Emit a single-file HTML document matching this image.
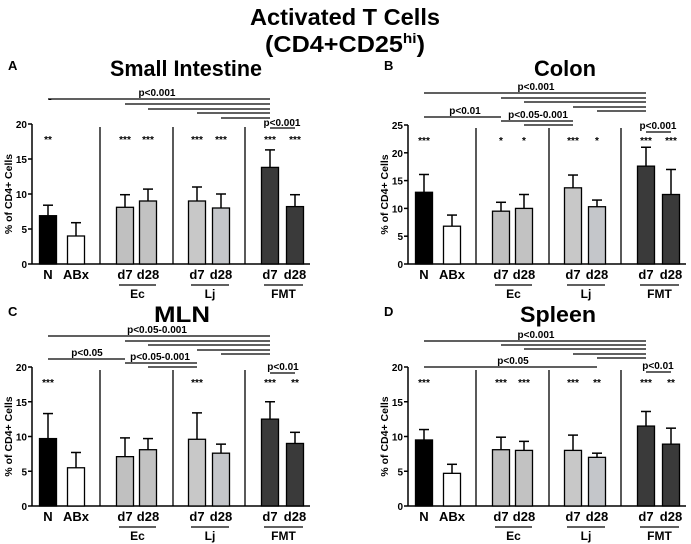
<!DOCTYPE html>
<html><head><meta charset="utf-8"><style>
body{margin:0;background:#fff;}
svg{display:block;font-family:"Liberation Sans",Arial,sans-serif;}
</style></head><body>
<svg id="fig" width="691" height="544" viewBox="0 0 691 544">
<text x="345" y="25" text-anchor="middle" font-size="23" font-weight="bold" textLength="190" lengthAdjust="spacingAndGlyphs">Activated T Cells</text>
<text x="345" y="52" text-anchor="middle" font-size="23" font-weight="bold" textLength="160" lengthAdjust="spacingAndGlyphs">(CD4+CD25<tspan font-size="14" dy="-9">hi</tspan><tspan dy="9">)</tspan></text>
</svg>
<script>
const categories=["N","ABx","d7","d28","d7","d28","d7","d28"];
const groups=["Ec","Lj","FMT"];
const siMeans=[6.9,4.0,8.1,9.0,9.0,8.0,13.8,8.2];
const siErr=[8.4,5.9,9.9,10.7,11.0,10.0,16.3,9.9];
const siStars=["**","","***","***","***","***","***","***"];
const coMeans=[12.9,6.8,9.5,10.0,13.7,10.3,17.6,12.5];
const coErr=[16.1,8.8,11.1,12.5,16.0,11.5,21.0,17.0];
const coStars=["***","","*","*","***","*","***","***"];
const mlMeans=[9.7,5.5,7.1,8.1,9.6,7.6,12.5,9.0];
const mlErr=[13.3,7.7,9.8,9.7,13.4,8.9,15.0,10.6];
const mlStars=["***","","","","***","","***","**"];
const spMeans=[9.5,4.7,8.1,8.0,8.0,7.0,11.5,8.9];
const spErr=[11.0,6.0,9.9,9.3,10.2,7.6,13.6,11.2];
const spStars=["***","","***","***","***","**","***","**"];
const yTicksA=[0,5,10,15,20];
const yTicksB=[0,5,10,15,20,25];

const NS="http://www.w3.org/2000/svg";
const svg=document.getElementById('fig');
const fills=["#000","#fff","#c0c0c0","#c2c2c2","#c8c8c8","#c4c6ca","#3a3a3a","#3a3a3a"];
function el(tag,attrs,parent,txt){const e=document.createElementNS(NS,tag);for(const k in attrs)e.setAttribute(k,attrs[k]);if(txt!==undefined)e.textContent=txt;(parent||svg).appendChild(e);return e;}

function panel(o){
  const g=el('g',{});
  
  
  const ox=o.ox, y0=o.y0, yTop=o.yTop, ymax=o.ymax;
  const yS=v=>y0-(v/ymax)*(y0-yTop);
  const centers=[16,44,93,116,165,189,238,263].map(c=>ox+c);
  const bw=17;
  const l=el('text',{x:ox-24,y:o.ty-6,'font-size':13,'font-weight':'bold'},g,o.letter);
  
  
  const t=el('text',{x:ox+o.tcx,y:o.ty,'text-anchor':'middle','font-size':22,'font-weight':'bold',textLength:o.tw,lengthAdjust:'spacingAndGlyphs'},g,o.title);
  
  
  const ya=el('line',{x1:ox,y1:yTop,x2:ox,y2:y0,stroke:'#000','stroke-width':1.5},g);
  
  
  const xa=el('line',{x1:ox,y1:y0,x2:ox+278,y2:y0,stroke:'#000','stroke-width':1.5},g);
  
  
  o.ticks.forEach(v=>{
    const tk=el('line',{x1:ox-4,y1:yS(v),x2:ox,y2:yS(v),stroke:'#000','stroke-width':1.5},g);
    
    
    const tl=el('text',{x:ox-5,y:yS(v)+4,'text-anchor':'end','font-size':10,'font-weight':'bold'},g,String(v));
    
    
  });
  const yt=el('text',{x:0,y:0,'text-anchor':'middle','font-size':10.5,'font-weight':'bold',transform:`translate(${ox-20},${(y0+yTop)/2}) rotate(-90)`},g,'% of CD4+ Cells');
  
  
  [68,141,213].forEach(s=>{
    const sl=el('line',{x1:ox+s,y1:yTop+3,x2:ox+s,y2:y0,stroke:'#000','stroke-width':1.3},g);
    
    
  });
  o.means.forEach((m,i)=>{
    const cx=centers[i];
    const e=el('line',{x1:cx,y1:yS(o.err[i]),x2:cx,y2:yS(m),stroke:'#000','stroke-width':1.5},g);
    
    
    const c=el('line',{x1:cx-5,y1:yS(o.err[i]),x2:cx+5,y2:yS(o.err[i]),stroke:'#000','stroke-width':1.5},g);
    
    
    const r=el('rect',{x:cx-bw/2,y:yS(m),width:bw,height:y0-yS(m),fill:fills[i],stroke:'#000','stroke-width':1.3},g);
    
    
    if(o.stars[i]){
      const s=el('text',{x:cx,y:yTop+19,'text-anchor':'middle','font-size':10,'font-weight':'bold'},g,o.stars[i]);
      
      
    }
    const cl=el('text',{x:cx,y:y0+15,'text-anchor':'middle','font-size':13,'font-weight':'bold'},g,categories[i]);
    
    
  });
  [[2,3],[4,5],[6,7]].forEach((p,k)=>{
    const a=centers[p[0]]-6,b=centers[p[1]]+8;
    const gl=el('line',{x1:a,y1:y0+21,x2:b,y2:y0+21,stroke:'#000','stroke-width':1.2},g);
    
    
    const gt=el('text',{x:(a+b)/2,y:y0+34,'text-anchor':'middle','font-size':12,'font-weight':'bold'},g,groups[k]);
    
    
  });
  o.brackets.forEach(b=>{
    const bl=el('line',{x1:centers[b[0]],y1:b[2],x2:centers[b[1]],y2:b[2],stroke:'#000','stroke-width':1.2},g);
    
    
  });
  o.plabels.forEach(p=>{
    const pt=el('text',{x:ox+p[0],y:p[1],'text-anchor':'middle','font-size':10,'font-weight':'bold'},g,p[2]);
    
    
  });
}
panel({name:'small-intestine',letter:'A',title:'Small Intestine',tcx:154,tw:152,ty:76,ox:32,y0:264,yTop:124,ymax:20,ticks:yTicksA,means:siMeans,err:siErr,stars:siStars,
  brackets:[[0,6,99],[2,6,104],[3,6,109],[4,6,113],[5,6,118],[6,7,128]],
  plabels:[[125,96,'p<0.001'],[250,126,'p<0.001'],[18,102,'-']]});
panel({name:'colon',letter:'B',title:'Colon',tcx:157,tw:62,ty:76,ox:408,y0:264,yTop:125,ymax:25,ticks:yTicksB,means:coMeans,err:coErr,stars:coStars,
  brackets:[[0,6,93],[2,6,98],[3,6,102],[4,6,107],[5,6,111],[0,2,117],[2,4,121],[3,4,125],[6,7,132]],
  plabels:[[128,90,'p<0.001'],[57,114,'p<0.01'],[130,118,'p<0.05-0.001'],[250,129,'p<0.001']]});
panel({name:'mln',letter:'C',title:'MLN',tcx:150,tw:56,ty:322,ox:32,y0:506,yTop:367,ymax:20,ticks:yTicksA,means:mlMeans,err:mlErr,stars:mlStars,
  brackets:[[0,6,336],[2,6,341],[3,6,345],[4,6,350],[5,6,354],[0,2,359],[2,4,363],[3,4,367],[6,7,373]],
  plabels:[[125,333,'p<0.05-0.001'],[55,356,'p<0.05'],[128,360,'p<0.05-0.001'],[251,370,'p<0.01']]});
panel({name:'spleen',letter:'D',title:'Spleen',tcx:150,tw:76,ty:322,ox:408,y0:506,yTop:367,ymax:20,ticks:yTicksA,means:spMeans,err:spErr,stars:spStars,
  brackets:[[0,6,341],[2,6,345],[3,6,349],[4,6,354],[5,6,358],[0,5,367],[6,7,372]],
  plabels:[[128,338,'p<0.001'],[105,364,'p<0.05'],[250,369,'p<0.01']]});
</script>
</body></html>
